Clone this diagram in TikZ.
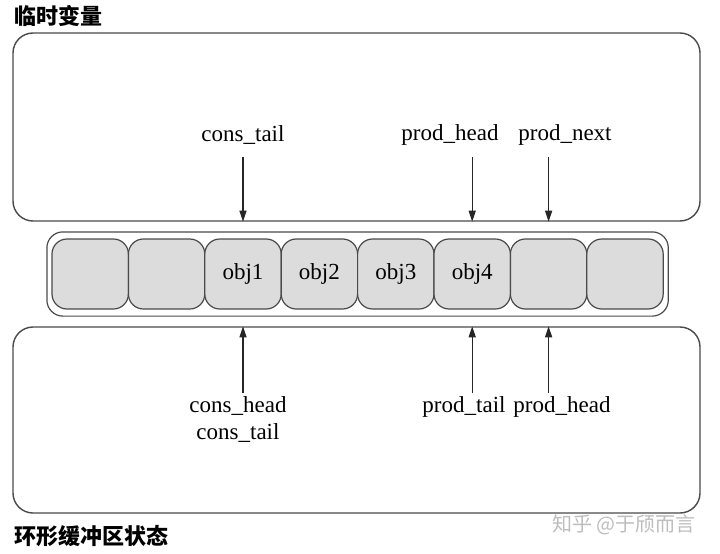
\documentclass[tikz,border=0pt]{standalone}
\usepackage{fontspec}
\usepackage{tikz}
\usetikzlibrary{positioning, fit, arrows.meta}
\setmainfont{Liberation Serif}
\newfontfamily\cjk{Noto Sans CJK SC}

\definecolor{edgegray}{HTML}{4A4A4A}
\definecolor{cellgray}{HTML}{DCDCDC}
\definecolor{markgray}{HTML}{BDBDBD}

\tikzset{
	panel/.style={draw=edgegray, line width=1.4pt, rounded corners=20pt, minimum width=687pt},
	slot/.style={draw=edgegray, fill=cellgray, line width=1.2pt, rounded corners=15pt,
		minimum width=76.4pt, minimum height=70pt, inner sep=0pt},
	ptr/.style={-{Triangle[length=11pt, width=7pt]}, line width=1.3pt, black!85},
	lbl/.style={font=\fontsize{23}{27}\selectfont, inner sep=1pt}
}

\begin{document}
\begin{tikzpicture}[x=1pt, y=-1pt]
		\useasboundingbox (0,0) rectangle (720,554);
		% Draw panels
		\node[panel, minimum height=188pt] (tmp) at (356.5,127) {};
		\node[panel, minimum height=186pt] (state) at (356.5,420) {};
		\node[anchor=west, font=\cjk\bfseries\fontsize{22}{26}\selectfont] (tmptitle) at (11,16) {临时变量};
		\node[anchor=west, font=\cjk\bfseries\fontsize{22}{26}\selectfont] (statetitle) at (11,536) {环形缓冲区状态};
		% Draw ring slots
		\node[slot] (c1) at (90.2,274) {};
		\node[slot] (c2) at (166.6,274) {};
		\node[slot, lbl] (c3) at (243.0,274) {obj1};
		\node[slot, lbl] (c4) at (319.4,274) {obj2};
		\node[slot, lbl] (c5) at (395.8,274) {obj3};
		\node[slot, lbl] (c6) at (472.2,274) {obj4};
		\node[slot] (c7) at (548.6,274) {};
		\node[slot] (c8) at (625.0,274) {};
		\node[fit=(c1)(c8), draw=edgegray, line width=1.2pt, rounded corners=16pt,
			inner xsep=4.5pt, inner ysep=6.5pt] (ring) {};
		% Local variables
		\node[lbl] (constail) at (243,135) {cons\_tail};
		\node[lbl] (prodhead) at (450,135) {prod\_head};
		\node[lbl] (prodnext) at (565,135) {prod\_next};
		\draw[ptr] (c3 |- 0,157) -- (c3 |- tmp.south);
		\draw[ptr] (c6 |- 0,157) -- (c6 |- tmp.south);
		\draw[ptr] (c7 |- 0,157) -- (c7 |- tmp.south);
		% Ring state
		\node[lbl, align=center] (conspair) at (238,419) {cons\_head\\cons\_tail};
		\node[lbl] (prodtail) at (464,407) {prod\_tail};
		\node[lbl] (prodhead2) at (562,407) {prod\_head};
		\draw[ptr] (c3 |- 0,393) -- (c3 |- state.north);
		\draw[ptr] (c6 |- 0,393) -- (c6 |- state.north);
		\draw[ptr] (c7 |- 0,393) -- (c7 |- state.north);
		% Watermark
		\node[font=\cjk\fontsize{20}{24}\selectfont, text=markgray] (mark) at (624,525) {知乎 @于颀而言};
	\end{tikzpicture}
\end{document}
